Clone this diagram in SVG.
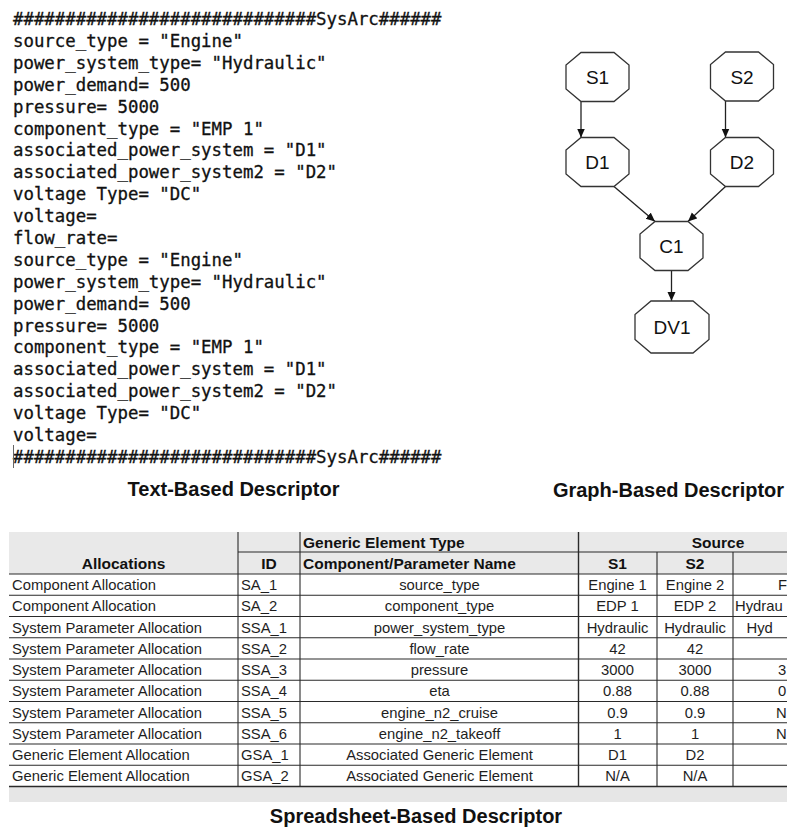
<svg xmlns="http://www.w3.org/2000/svg" width="787" height="830" viewBox="0 0 787 830">
  <defs>
    <marker id="arrow" markerUnits="userSpaceOnUse" markerWidth="10" markerHeight="10" refX="9" refY="4" orient="auto">
      <path d="M0,0 L9,4 L0,8 Z" fill="#111"/>
    </marker>
    <style>
      .code { font-family: "DejaVu Sans Mono", "Liberation Mono", monospace; font-size: 17.36px; fill: #111; stroke: #111; stroke-width: 0.3px; }
      .caption { font-family: "Liberation Sans", Arial, sans-serif; font-weight: bold; font-size: 20px; fill: #111; text-anchor: middle; }
      .node polygon { fill: #fff; stroke: #333; stroke-width: 1.3; }
      .node text { font-family: "Liberation Sans", Arial, sans-serif; font-size: 19px; fill: #111; text-anchor: middle; }
      .edge { stroke: #222; stroke-width: 1.3; fill: none; marker-end: url(#arrow); }
      .grid { stroke: #2a2a2a; stroke-width: 1.1; }
      .hd { font-family: "Liberation Sans", Arial, sans-serif; font-weight: bold; font-size: 15.5px; fill: #111; }
      .td { font-family: "Liberation Sans", Arial, sans-serif; font-size: 14.8px; fill: #1e1e1e; }
      .c { text-anchor: middle; }
    </style>
  </defs>
  <rect width="787" height="830" fill="#fff"/>

  <!-- text-based descriptor listing -->
  <g id="text-descriptor">
    <text class="code" x="13" y="25">
      <tspan x="13" y="25">#############################SysArc######</tspan>
      <tspan x="13" dy="21.9">source_type = "Engine"</tspan>
      <tspan x="13" dy="21.9">power_system_type= "Hydraulic"</tspan>
      <tspan x="13" dy="21.9">power_demand= 500</tspan>
      <tspan x="13" dy="21.9">pressure= 5000</tspan>
      <tspan x="13" dy="21.9">component_type = "EMP 1"</tspan>
      <tspan x="13" dy="21.9">associated_power_system = "D1"</tspan>
      <tspan x="13" dy="21.9">associated_power_system2 = "D2"</tspan>
      <tspan x="13" dy="21.9">voltage Type= "DC"</tspan>
      <tspan x="13" dy="21.9">voltage=</tspan>
      <tspan x="13" dy="21.9">flow_rate=</tspan>
      <tspan x="13" dy="21.9">source_type = "Engine"</tspan>
      <tspan x="13" dy="21.9">power_system_type= "Hydraulic"</tspan>
      <tspan x="13" dy="21.9">power_demand= 500</tspan>
      <tspan x="13" dy="21.9">pressure= 5000</tspan>
      <tspan x="13" dy="21.9">component_type = "EMP 1"</tspan>
      <tspan x="13" dy="21.9">associated_power_system = "D1"</tspan>
      <tspan x="13" dy="21.9">associated_power_system2 = "D2"</tspan>
      <tspan x="13" dy="21.9">voltage Type= "DC"</tspan>
      <tspan x="13" dy="21.9">voltage=</tspan>
      <tspan x="13" dy="21.9">#############################SysArc######</tspan>
    </text>
    <!-- editor caret -->
    <line x1="13.5" y1="445" x2="13.5" y2="468" stroke="#666" stroke-width="1"/>
  </g>

  <!-- graph-based descriptor -->
  <g id="connectors">
    <line class="edge" x1="581" y1="101.5" x2="581" y2="137.5"/>
    <line class="edge" x1="725.5" y1="101" x2="725.5" y2="137.5"/>
    <line class="edge" x1="614" y1="186.5" x2="655" y2="221.5"/>
    <line class="edge" x1="725.5" y1="186.5" x2="688" y2="221.5"/>
    <line class="edge" x1="671.5" y1="270.5" x2="671.5" y2="301"/>
  </g>
  <g id="node-S1" class="node">
    <polygon points="581,52.5 614,52.5 629,65 629,89 614,101.5 581,101.5 566,89 566,65"/>
    <text x="597.5" y="84">S1</text>
  </g>
  <g id="node-S2" class="node">
    <polygon points="725.5,52 758.5,52 773.5,64.5 773.5,88.5 758.5,101 725.5,101 710.5,88.5 710.5,64.5"/>
    <text x="742" y="83.5">S2</text>
  </g>
  <g id="node-D1" class="node">
    <polygon points="581,137.5 614,137.5 629,150 629,174 614,186.5 581,186.5 566,174 566,150"/>
    <text x="597.5" y="169">D1</text>
  </g>
  <g id="node-D2" class="node">
    <polygon points="725.5,137.5 758.5,137.5 773.5,150 773.5,174 758.5,186.5 725.5,186.5 710.5,174 710.5,150"/>
    <text x="742" y="169">D2</text>
  </g>
  <g id="node-C1" class="node">
    <polygon points="655,221.5 688,221.5 703,234 703,258 688,270.5 655,270.5 640,258 640,234"/>
    <text x="671.5" y="253">C1</text>
  </g>
  <g id="node-DV1" class="node">
    <polygon points="651,301 693,301 709,314.5 709,339.5 693,353 651,353 635,339.5 635,314.5"/>
    <text x="672" y="334">DV1</text>
  </g>

  <!-- captions -->
  <text class="caption" x="233.5" y="496">Text-Based Descriptor</text>
  <text class="caption" x="668.5" y="497">Graph-Based Descriptor</text>
  <text class="caption" x="416" y="823">Spreadsheet-Based Descriptor</text>

  <!-- spreadsheet-based descriptor -->
  <g id="spreadsheet">
    <rect x="9" y="532" width="778" height="42" fill="#e9e9e9"/>
    <rect x="9" y="786.5" width="778" height="15.5" fill="#e6e6e6"/>

    <!-- grid -->
    <g class="grid">
      <line x1="238" y1="552" x2="787" y2="552"/>
      <line x1="9" y1="574" x2="787" y2="574"/>
      <line x1="9" y1="595.25" x2="787" y2="595.25"/>
      <line x1="9" y1="616.5" x2="787" y2="616.5"/>
      <line x1="9" y1="637.75" x2="787" y2="637.75"/>
      <line x1="9" y1="659" x2="787" y2="659"/>
      <line x1="9" y1="680.25" x2="787" y2="680.25"/>
      <line x1="9" y1="701.5" x2="787" y2="701.5"/>
      <line x1="9" y1="722.75" x2="787" y2="722.75"/>
      <line x1="9" y1="744" x2="787" y2="744"/>
      <line x1="9" y1="765.25" x2="787" y2="765.25"/>
      <line x1="9" y1="786.5" x2="787" y2="786.5" stroke-width="1.6"/>
      <line x1="238" y1="532" x2="238" y2="786.5"/>
      <line x1="300" y1="532" x2="300" y2="786.5"/>
      <line x1="578.5" y1="532" x2="578.5" y2="786.5" stroke-width="1.4"/>
      <line x1="657" y1="552" x2="657" y2="786.5"/>
      <line x1="733" y1="552" x2="733" y2="786.5"/>
    </g>

    <!-- header -->
    <text class="hd c" x="123.5" y="569">Allocations</text>
    <text class="hd c" x="269" y="569">ID</text>
    <text class="hd" x="303" y="548">Generic Element Type</text>
    <text class="hd" x="303" y="569">Component/Parameter Name</text>
    <text class="hd c" x="718" y="548">Source</text>
    <text class="hd c" x="617.5" y="569">S1</text>
    <text class="hd c" x="695" y="569">S2</text>

    <!-- allocation column -->
    <g class="td">
      <text x="12" y="590">Component Allocation</text>
      <text x="12" y="611.25">Component Allocation</text>
      <text x="12" y="632.5">System Parameter Allocation</text>
      <text x="12" y="653.75">System Parameter Allocation</text>
      <text x="12" y="675">System Parameter Allocation</text>
      <text x="12" y="696.25">System Parameter Allocation</text>
      <text x="12" y="717.5">System Parameter Allocation</text>
      <text x="12" y="738.75">System Parameter Allocation</text>
      <text x="12" y="760">Generic Element Allocation</text>
      <text x="12" y="781.25">Generic Element Allocation</text>
    </g>
    <!-- ID column -->
    <g class="td">
      <text x="241" y="590">SA_1</text>
      <text x="241" y="611.25">SA_2</text>
      <text x="241" y="632.5">SSA_1</text>
      <text x="241" y="653.75">SSA_2</text>
      <text x="241" y="675">SSA_3</text>
      <text x="241" y="696.25">SSA_4</text>
      <text x="241" y="717.5">SSA_5</text>
      <text x="241" y="738.75">SSA_6</text>
      <text x="241" y="760">GSA_1</text>
      <text x="241" y="781.25">GSA_2</text>
    </g>
    <!-- parameter names -->
    <g class="td c">
      <text x="439.5" y="590">source_type</text>
      <text x="439.5" y="611.25">component_type</text>
      <text x="439.5" y="632.5">power_system_type</text>
      <text x="439.5" y="653.75">flow_rate</text>
      <text x="439.5" y="675">pressure</text>
      <text x="439.5" y="696.25">eta</text>
      <text x="439.5" y="717.5">engine_n2_cruise</text>
      <text x="439.5" y="738.75">engine_n2_takeoff</text>
      <text x="439.5" y="760">Associated Generic Element</text>
      <text x="439.5" y="781.25">Associated Generic Element</text>
    </g>
    <!-- S1 values -->
    <g class="td c">
      <text x="617.5" y="590">Engine 1</text>
      <text x="617.5" y="611.25">EDP 1</text>
      <text x="617.5" y="632.5">Hydraulic</text>
      <text x="617.5" y="653.75">42</text>
      <text x="617.5" y="675">3000</text>
      <text x="617.5" y="696.25">0.88</text>
      <text x="617.5" y="717.5">0.9</text>
      <text x="617.5" y="738.75">1</text>
      <text x="617.5" y="760">D1</text>
      <text x="617.5" y="781.25">N/A</text>
    </g>
    <!-- S2 values -->
    <g class="td c">
      <text x="695" y="590">Engine 2</text>
      <text x="695" y="611.25">EDP 2</text>
      <text x="695" y="632.5">Hydraulic</text>
      <text x="695" y="653.75">42</text>
      <text x="695" y="675">3000</text>
      <text x="695" y="696.25">0.88</text>
      <text x="695" y="717.5">0.9</text>
      <text x="695" y="738.75">1</text>
      <text x="695" y="760">D2</text>
      <text x="695" y="781.25">N/A</text>
    </g>
    <!-- third source column, at the right edge -->
    <g class="td">
      <text x="778" y="590">F</text>
      <text x="735" y="611.25">Hydrau</text>
      <text x="746.5" y="632.5">Hyd</text>
      <text x="778" y="675">3</text>
      <text x="778" y="696.25">0</text>
      <text x="776" y="717.5">N</text>
      <text x="776" y="738.75">N</text>
    </g>
  </g>
</svg>
